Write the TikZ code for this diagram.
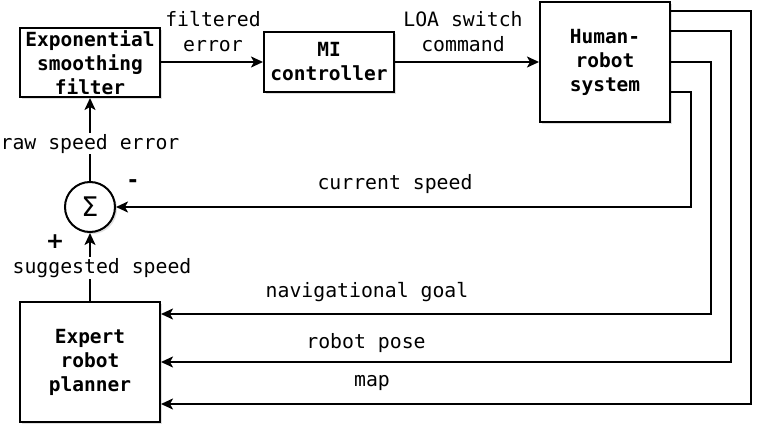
\documentclass[tikz,border=0pt]{standalone}
\usepackage{fontspec}
\setmainfont{DejaVu Sans}
\setmonofont{DejaVu Sans Mono}
\usetikzlibrary{arrows.meta,positioning,shadows}

\tikzset{
    block/.style={draw, line width=2pt, fill=white, align=center, inner sep=0pt,
        font=\ttfamily\bfseries\fontsize{19.5}{24}\selectfont,
        drop shadow={shadow xshift=2pt, shadow yshift=-2pt, opacity=0.25}},
    lbl/.style={font=\ttfamily\fontsize{19.8}{25}\selectfont, align=center, inner sep=1pt},
    flow/.style={draw, line width=2pt, arrows={-Stealth[length=12pt,width=11pt,inset=3pt]}}
}

\begin{document}
\begin{tikzpicture}[x=1pt, y=1pt]
    \useasboundingbox (0,0) rectangle (761,432);

    % Blocks
    \node[block, minimum width=140pt, minimum height=69pt] (filt) at (90,369.5) {Exponential\\smoothing\\filter};
    \node[block, minimum width=130pt, minimum height=60pt] (mi) at (329,370) {MI\\controller};
    \node[block, minimum width=130pt, minimum height=120pt] (hrs) at (605,370) {Human-\\robot\\system};
    \node[block, circle, minimum size=50pt, font=\fontsize{27}{28}\selectfont] (sum) at (90,225) {Σ};
    \node[block, minimum width=140pt, minimum height=120pt] (planner) at (90,70) {Expert\\robot\\planner};

    % Forward path
    \path[flow] (filt.east |- mi) -- (mi);
    \path[flow] (mi) -- (hrs);
    \path[flow] (sum) -- node[lbl, fill=white, pos=0.45] (rawlbl) {raw speed error} (filt);
    \path[flow] (planner) -- (sum);
    \node[lbl, fill=white] (suglbl) at (102,164) {suggested speed};

    % Feedback from the human-robot system
    \path[flow] ([yshift=-30pt]hrs.east) -- ++(20,0) |- (sum);
    \path[flow] (hrs.east) -- ++(40,0) |- ([yshift=48pt]planner.east);
    \path[flow] ([yshift=-30pt]hrs.north east) -- ++(60,0) |- (planner.east);
    \path[flow] ([yshift=-10pt]hrs.north east) -- ++(80,0) |- ([yshift=-42pt]planner.east);

    % Labels
    \node[lbl] (filtlbl) at (213,400.5) {filtered\\error};
    \node[lbl] (loalbl) at (463,400.5) {LOA switch\\command};
    \node[lbl] (curlbl) at (395,248) {current speed};
    \node[lbl] (navlbl) at (367,140) {navigational goal};
    \node[lbl] (poselbl) at (366,89) {robot pose};
    \node[lbl] (maplbl) at (372,49) {map};
    \node[font=\bfseries\fontsize{22}{24}\selectfont] (plus) at (55,190) {+};
    \node[font=\bfseries\fontsize{22}{24}\selectfont] (minus) at (133,248) {-};
\end{tikzpicture}
\end{document}
